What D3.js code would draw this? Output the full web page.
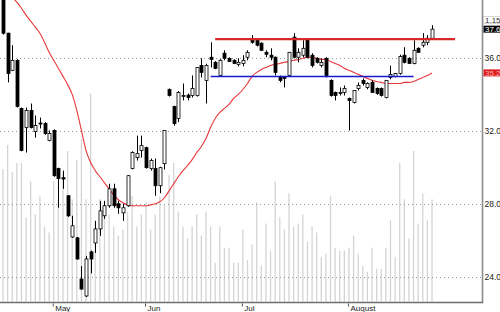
<!DOCTYPE html>
<html>
<head>
<meta charset="utf-8">
<script src="https://cdn.jsdelivr.net/npm/d3@7"></script>
<style>
  body { margin: 0; background: #ffffff; }
  svg { display: block; }
</style>
</head>
<body>
<svg id="chart" width="500" height="312"></svg>
<script>
var opens = [39.3, 37.38, 35.34, 35.89, 33.25, 32.2, 33.14, 31.98, 32.45, 32.42,
  31.49, 32.04, 29.95, 29.45, 28.46, 26.2, 26.15, 23.89, 22.96, 25.38,
  25.87, 26.64, 27.36, 27.91, 28.84, 28.02, 27.52, 27.91, 29.95, 30.55,
  30.94, 31.1, 29.95, 29.95, 29.01, 30.22, 34.29, 33.36, 32.7, 33.96,
  33.98, 33.96, 33.96, 35.61, 34.79, 36.06, 35.78, 35.06, 36.28, 36.0,
  35.89, 35.67, 35.72, 36.06, 36.99, 36.99, 36.83, 36.33, 36.17, 36.06,
  34.95, 34.95, 35.06, 37.16, 36.06, 36.17, 36.99, 36.17, 36.0, 35.61,
  36.0, 34.79, 34.13, 34.07, 34.13, 33.8, 33.58, 34.35, 34.79, 34.4,
  34.68, 34.35, 34.35, 33.85, 34.95, 35.01, 35.17, 36.17, 36.0, 35.72,
  36.55, 36.72, 36.88, 37.1];
var highs = [39.5, 37.4, 36.72, 35.95, 33.3, 33.3, 33.52, 32.86, 32.75, 32.5,
  32.04, 32.1, 30.0, 29.84, 28.5, 27.36, 26.2, 24.6, 25.16, 25.45,
  27.08, 28.18, 28.18, 29.12, 29.12, 28.18, 28.02, 29.6, 30.9, 31.76,
  31.76, 31.15, 30.5, 30.5, 30.05, 32.04, 34.35, 33.4, 34.2, 34.62,
  34.07, 35.06, 35.5, 36.0, 35.7, 36.88, 35.85, 35.95, 36.44, 36.05,
  35.95, 36.0, 36.17, 36.44, 37.27, 37.05, 36.88, 36.44, 36.55, 36.1,
  35.06, 35.0, 36.33, 37.38, 36.55, 36.99, 37.05, 36.28, 36.06, 36.0,
  36.06, 34.85, 34.18, 34.4, 34.51, 33.85, 34.24, 34.68, 34.9, 34.68,
  34.79, 34.4, 34.4, 34.79, 35.6, 35.2, 36.2, 36.61, 36.06, 36.99,
  36.6, 37.38, 37.27, 37.82];
var lows = [37.3, 34.68, 35.3, 33.3, 30.9, 30.83, 32.15, 31.65, 32.15, 31.8,
  31.45, 29.5, 27.8, 28.84, 27.3, 26.15, 24.95, 23.3, 22.9, 24.2,
  25.32, 26.26, 27.19, 27.8, 27.8, 27.47, 27.08, 27.85, 29.9, 30.39,
  30.55, 29.95, 29.84, 28.46, 28.6, 29.9, 33.9, 32.3, 32.5, 33.69,
  33.69, 33.85, 33.9, 34.95, 33.52, 35.5, 35.4, 35.0, 35.89, 35.8,
  35.7, 35.56, 35.56, 35.89, 36.8, 36.65, 36.4, 36.06, 35.89, 35.06,
  34.68, 34.4, 35.0, 36.0, 35.78, 36.06, 36.0, 35.5, 35.72, 35.5,
  34.95, 33.9, 33.69, 33.96, 33.96, 32.04, 33.52, 34.24, 34.51, 34.3,
  34.1, 34.0, 33.9, 33.8, 34.85, 34.95, 35.1, 35.72, 35.7, 35.67,
  36.3, 36.6, 36.72, 37.05];
var closes = [37.38, 35.17, 35.89, 33.36, 30.94, 33.14, 32.2, 32.31, 32.42, 31.87,
  31.87, 29.56, 29.4, 29.38, 27.36, 26.81, 24.99, 23.34, 24.99, 24.99,
  26.64, 27.63, 27.91, 28.84, 27.91, 27.8, 27.8, 29.56, 30.83, 30.77,
  31.21, 30.0, 30.39, 29.01, 30.0, 32.04, 33.96, 32.42, 34.13, 33.96,
  33.85, 34.35, 35.5, 35.23, 35.61, 35.94, 35.45, 35.89, 36.0, 35.83,
  35.72, 35.78, 35.89, 36.33, 36.88, 36.72, 36.44, 36.22, 36.06, 35.23,
  34.79, 34.9, 36.33, 36.06, 36.33, 36.55, 36.06, 35.61, 35.78, 35.78,
  35.06, 33.96, 33.96, 34.13, 34.35, 33.69, 34.24, 34.51, 34.62, 34.62,
  34.13, 34.07, 33.96, 34.79, 35.12, 35.17, 36.1, 35.78, 35.72, 36.44,
  36.33, 36.88, 37.1, 37.6];
var volumes = [44, 52, 43, 46, 46, 28, 40, 29, 35, 25,
  23, 40, 34, 43, 50, 34, 47, 54, 34, 69,
  27, 34, 32, 29, 25, 22, 24, 30, 35, 25,
  29, 33, 24, 29, 35, 32, 42, 46, 30, 25,
  21, 25, 29, 22, 30, 25, 13, 25, 18, 18,
  13, 13, 24, 14, 19, 33, 12, 26, 17, 40,
  28, 24, 36, 25, 26, 29, 20, 25, 23, 15,
  16, 35, 18, 17, 17, 18, 22, 16, 12, 10,
  18, 11, 11, 18, 27, 15, 46, 34, 21, 50,
  26, 36, 27, 34];
var movingAverage = [40.0, 39.69, 39.36, 39.08, 38.75, 38.37, 38.04, 37.71, 37.38, 36.88,
  36.33, 35.89, 35.45, 35.01, 34.57, 34.02, 33.14, 32.04, 30.94, 30.28,
  29.84, 29.5, 29.17, 28.84, 28.51, 28.24, 28.07, 27.96, 27.91, 27.91,
  27.91, 27.91, 27.96, 28.02, 28.13, 28.35, 28.73, 29.12, 29.5, 29.84,
  30.11, 30.44, 30.83, 31.16, 31.6, 32.2, 32.7, 33.03, 33.25, 33.47,
  33.8, 34.02, 34.29, 34.62, 35.01, 35.23, 35.39, 35.5, 35.61, 35.67,
  35.72, 35.78, 35.83, 35.89, 35.94, 36.0, 36.06, 36.06, 36.0, 35.94,
  35.94, 35.83, 35.72, 35.61, 35.45, 35.34, 35.23, 35.12, 35.01, 34.9,
  34.79, 34.73, 34.68, 34.62, 34.62, 34.62, 34.62, 34.68, 34.68, 34.73,
  34.84, 34.95, 35.06, 35.2];
var priceTicks = [36, 32, 28, 24];
var monthLabels = ['May', 'Jun', 'Jul', 'August'];
var monthStarts = [11, 31, 52, 75];
var resistance = { value: 37.05, from: 46, to: 98 };
var support = { value: 35.0, from: 45, to: 89 };
var infoValue = 38.1;
var infoText = '1.15';

function candleChart(selector) {
  var svg = d3.select(selector);
  var width = +svg.attr('width');
  var height = +svg.attr('height');
  var plotRight = 482.5;
  var plotBottom = 302.5;
  var n = closes.length;

  var x = d3.scaleLinear().domain([0, n - 1]).range([3, 432]);
  var y = d3.scaleLinear().domain([22.63, 39.2]).range([302, 0]);
  var v = d3.scaleLinear().domain([0, 100]).range([302, 0]);

  svg.append('rect')
    .attr('width', width)
    .attr('height', height)
    .style('fill', '#ffffff');

  svg.append('clipPath')
    .attr('id', 'plot-clip')
    .append('rect')
    .attr('x', 0)
    .attr('y', 0)
    .attr('width', plotRight - 1)
    .attr('height', plotBottom - 1);

  var plot = svg.append('g').attr('clip-path', 'url(#plot-clip)');

  // volume
  plot.selectAll('.volume')
    .data(volumes)
    .enter()
    .append('line')
    .attr('class', 'volume')
    .attr('x1', function(d, i) { return x(i); })
    .attr('x2', function(d, i) { return x(i); })
    .attr('y1', v(0))
    .attr('y2', function(d) { return v(d); })
    .attr('stroke', '#d4d4d4')
    .attr('stroke-width', 1.3);

  // grid
  plot.selectAll('.grid')
    .data(priceTicks)
    .enter()
    .append('line')
    .attr('class', 'grid')
    .attr('x1', 0)
    .attr('x2', plotRight)
    .attr('y1', function(d) { return Math.round(y(d)) + 0.5; })
    .attr('y2', function(d) { return Math.round(y(d)) + 0.5; })
    .attr('stroke', '#9a9a9a')
    .attr('stroke-width', 1)
    .attr('stroke-dasharray', '1,3');

  // moving average
  var maLine = d3.line()
    .x(function(d, i) { return x(i); })
    .y(function(d) { return y(d); })
    .curve(d3.curveMonotoneX);

  plot.append('path')
    .datum(movingAverage)
    .attr('d', maLine)
    .attr('fill', 'none')
    .attr('stroke', '#e8383a')
    .attr('stroke-width', 1.1);

  // candles
  var candle = plot.selectAll('.candle')
    .data(closes)
    .enter()
    .append('g')
    .attr('class', 'candle');

  candle.append('line')
    .attr('x1', function(d, i) { return Math.round(x(i)) + 0.5; })
    .attr('x2', function(d, i) { return Math.round(x(i)) + 0.5; })
    .attr('y1', function(d, i) { return y(highs[i]); })
    .attr('y2', function(d, i) { return y(lows[i]); })
    .attr('stroke', '#000000')
    .attr('stroke-width', 1);

  candle.append('rect')
    .attr('x', function(d, i) { return Math.round(x(i)) - 1; })
    .attr('y', function(d, i) { return y(Math.max(opens[i], d)); })
    .attr('width', 3)
    .attr('height', function(d, i) {
      return Math.max(1, Math.abs(y(opens[i]) - y(d)));
    })
    .attr('fill', function(d, i) { return d >= opens[i] ? '#ffffff' : '#000000'; })
    .attr('stroke', '#000000')
    .attr('stroke-width', 0.8);

  // support and resistance
  plot.append('line')
    .attr('x1', x(resistance.from))
    .attr('x2', x(resistance.to))
    .attr('y1', y(resistance.value))
    .attr('y2', y(resistance.value))
    .attr('stroke', '#d42a2a')
    .attr('stroke-width', 2.2);

  plot.append('line')
    .attr('x1', x(support.from))
    .attr('x2', x(support.to))
    .attr('y1', y(support.value))
    .attr('y2', y(support.value))
    .attr('stroke', '#1a1ad0')
    .attr('stroke-width', 1.5);

  // axes
  svg.append('line')
    .attr('x1', plotRight)
    .attr('x2', plotRight)
    .attr('y1', 0)
    .attr('y2', plotBottom)
    .attr('stroke', '#8c8c8c')
    .attr('stroke-width', 1.6);

  svg.append('line')
    .attr('x1', 0)
    .attr('x2', plotRight + 0.8)
    .attr('y1', plotBottom)
    .attr('y2', plotBottom)
    .attr('stroke', '#6e6e6e')
    .attr('stroke-width', 1.6);

  svg.selectAll('.price-label')
    .data(priceTicks)
    .enter()
    .append('text')
    .attr('class', 'price-label')
    .attr('x', plotRight + 2)
    .attr('y', function(d) { return y(d) + 3; })
    .style('font-family', 'Liberation Sans, Arial, sans-serif')
    .style('font-size', '8.5px')
    .style('fill', '#222222')
    .text(function(d) { return d.toFixed(1); });

  svg.selectAll('.month-tick')
    .data(monthStarts)
    .enter()
    .append('line')
    .attr('class', 'month-tick')
    .attr('x1', function(d) { return x(d) - 0.5; })
    .attr('x2', function(d) { return x(d) - 0.5; })
    .attr('y1', plotBottom + 1)
    .attr('y2', plotBottom + 4)
    .attr('stroke', '#555555')
    .attr('stroke-width', 1);

  svg.selectAll('.month-label')
    .data(monthStarts)
    .enter()
    .append('text')
    .attr('class', 'month-label')
    .attr('x', function(d) { return x(d) + 1.5; })
    .attr('y', plotBottom + 8.5)
    .style('font-family', 'Liberation Sans, Arial, sans-serif')
    .style('font-size', '8px')
    .style('fill', '#222222')
    .text(function(d, i) { return monthLabels[i]; });

  // value boxes on the right
  var lastClose = closes[n - 1];
  var lastMa = movingAverage[n - 1];
  var boxes = [
    { value: infoValue, text: infoText, fill: '#ffffff', stroke: '#bbbbbb', color: '#333333' },
    { value: lastClose, text: lastClose.toFixed(1), fill: '#000000', stroke: 'none', color: '#ffffff' },
    { value: lastMa, text: lastMa.toFixed(1), fill: '#dd1c1c', stroke: 'none', color: '#f7b4b4' }
  ];

  var box = svg.selectAll('.value-box')
    .data(boxes)
    .enter()
    .append('g')
    .attr('class', 'value-box')
    .attr('transform', function(d) {
      return 'translate(' + (plotRight + 1) + ',' + y(d.value) + ')';
    });

  box.append('rect')
    .attr('x', 0)
    .attr('y', -3.5)
    .attr('width', 18)
    .attr('height', 7)
    .attr('fill', function(d) { return d.fill; })
    .attr('stroke', function(d) { return d.stroke; })
    .attr('stroke-width', 0.6);

  box.append('text')
    .attr('x', 1.5)
    .attr('y', 2.8)
    .style('font-family', 'Liberation Sans, Arial, sans-serif')
    .style('font-size', '8px')
    .style('fill', function(d) { return d.color; })
    .text(function(d) { return d.text; });
}

candleChart('#chart');
</script>
</body>
</html>
